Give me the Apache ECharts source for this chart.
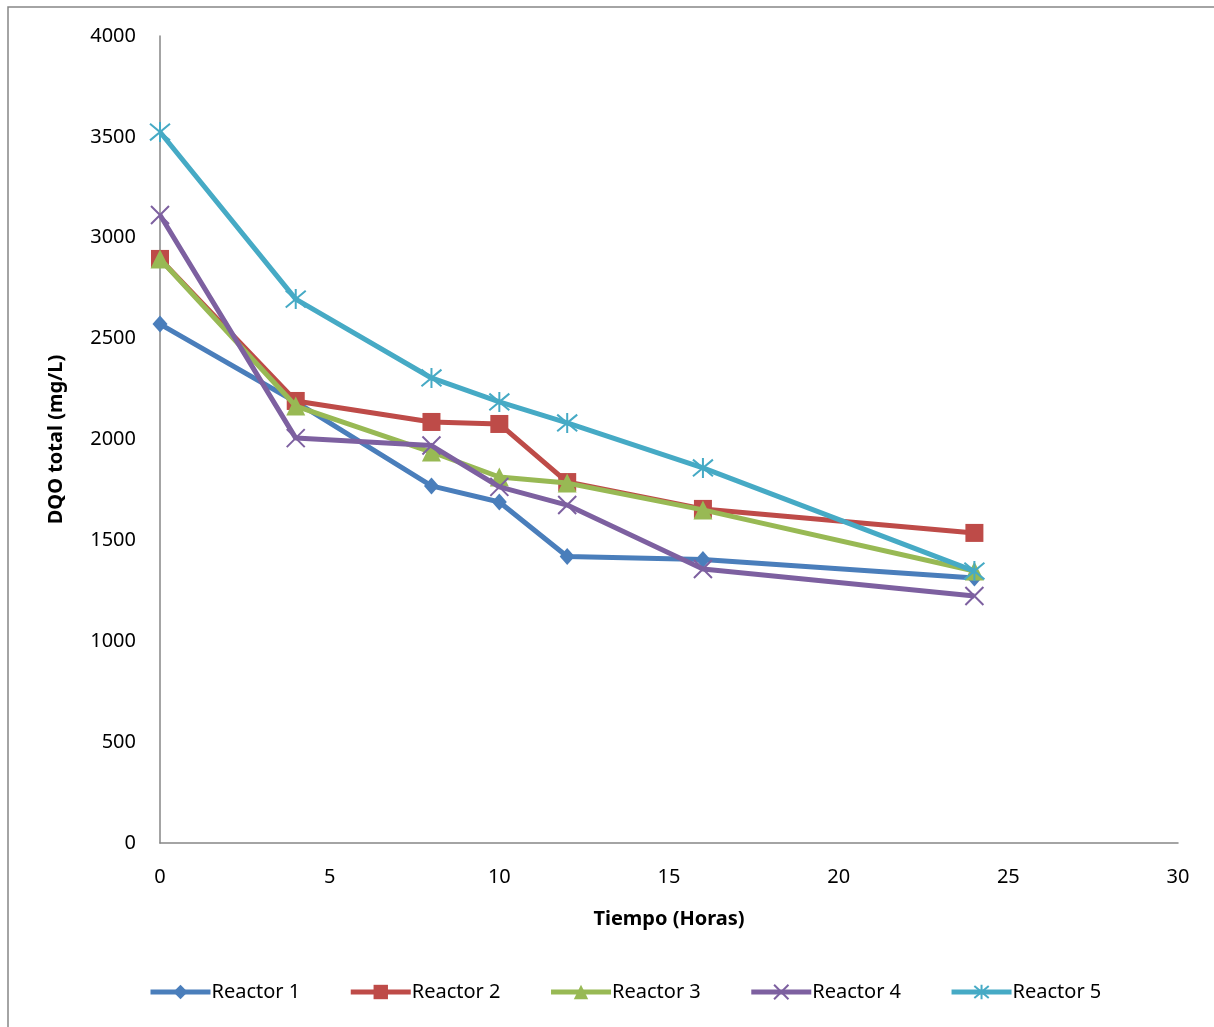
<!DOCTYPE html>
<html>
<head>
<meta charset="utf-8">
<script src="https://cdn.jsdelivr.net/npm/echarts@6/dist/echarts.min.js"></script>
<style>
  html, body { margin: 0; padding: 0; background: #fff; }
  #chart { width: 1214px; height: 1027px; }
</style>
</head>
<body>
<div id="chart"></div>
<script>
// tiempo en horas
var horas = [0, 4, 8, 10, 12, 16, 24];
var reactor1 = [2572, 2186, 1770, 1690, 1420, 1405, 1314];
var reactor2 = [2895, 2191, 2087, 2077, 1789, 1656, 1537];
var reactor3 = [2895, 2166, 1938, 1814, 1784, 1651, 1348];
var reactor4 = [3113, 2007, 1970, 1765, 1675, 1358, 1224];
var reactor5 = [3524, 2696, 2305, 2186, 2082, 1859, 1348];
var nombres = ['Reactor 1', 'Reactor 2', 'Reactor 3', 'Reactor 4', 'Reactor 5'];
var colores = ['#4A7EBB', '#BE4B48', '#98B954', '#7D60A0', '#46AAC5'];

var simbolos = [
  'diamond',
  'rect',
  'triangle',
  'path://M0,0L10,10M10,0L0,10',
  'path://M0,0L10,10M10,0L0,10M5,-1L5,11'
];
var tamanos = [[15, 17], 18, 19, 18, 20];

function pares(vals) {
  return horas.map(function (h, i) { return [h, vals[i]]; });
}

var datos = [reactor1, reactor2, reactor3, reactor4, reactor5];

var myChart = echarts.init(document.getElementById('chart'));
myChart.setOption({
  animation: false,
  color: colores,
  textStyle: { fontFamily: 'Noto Sans', color: '#000' },
  graphic: [{
    type: 'rect',
    shape: { x: 8, y: 7, width: 1400, height: 1200 },
    style: { fill: 'none', stroke: '#868686', lineWidth: 1.5 },
    silent: true
  }],
  grid: { left: 160, right: 36, top: 36, bottom: 184 },
  xAxis: {
    type: 'value',
    min: 0, max: 30, interval: 5,
    name: 'Tiempo (Horas)',
    nameLocation: 'middle',
    nameGap: 66,
    nameTextStyle: { fontSize: 20, fontWeight: 'bold', color: '#000' },
    axisLine: { lineStyle: { color: '#868686', width: 1.5 } },
    axisTick: { show: false },
    axisLabel: { fontSize: 20, color: '#000', margin: 24 },
    splitLine: { show: false }
  },
  yAxis: {
    type: 'value',
    min: 0, max: 4000, interval: 500,
    name: 'DQO total (mg/L)',
    nameLocation: 'middle',
    nameGap: 94,
    nameTextStyle: { fontSize: 20, fontWeight: 'bold', color: '#000' },
    axisLine: { show: true, lineStyle: { color: '#868686', width: 1.5 } },
    axisTick: { show: false },
    axisLabel: { fontSize: 20, color: '#000', margin: 24, formatter: function (v) { return String(v); } },
    splitLine: { show: false }
  },
  legend: {
    bottom: 20,
    left: 143,
    itemWidth: 60,
    itemHeight: 18,
    itemGap: 48,
    lineStyle: { width: 5 },
    textStyle: { fontSize: 20, color: '#000', padding: [0, 0, 0, -4] },
    data: nombres
  },
  series: datos.map(function (vals, k) {
    var esTrazo = k >= 3;
    return {
      name: nombres[k],
      type: 'line',
      data: pares(vals),
      symbol: simbolos[k],
      symbolSize: tamanos[k],
      lineStyle: { width: 5, color: colores[k] },
      itemStyle: esTrazo
        ? { color: colores[k], borderColor: colores[k], borderWidth: 2 }
        : { color: colores[k] },
      z: 2 + k
    };
  })
});
</script>
</body>
</html>
